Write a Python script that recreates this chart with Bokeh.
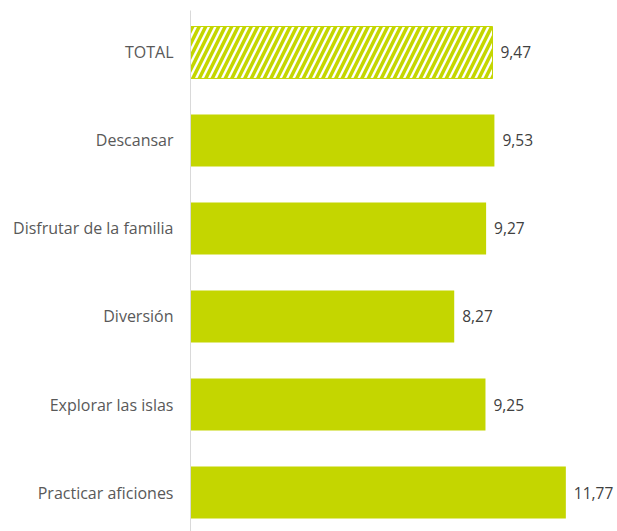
from bokeh.plotting import figure
from bokeh.models import Range1d, FixedTicker, ColumnDataSource
from bokeh.embed import file_html
from bokeh.resources import INLINE
from bokeh.core.properties import value

categories = ["TOTAL", "Descansar", "Disfrutar de la familia", "Diversión",
              "Explorar las islas", "Practicar aficiones"]
values = [9.47, 9.53, 9.27, 8.27, 9.25, 11.77]
labels = ["9,47", "9,53", "9,27", "8,27", "9,25", "11,77"]

GREEN = "#C4D600"
pos = list(range(len(categories)))

p = figure(width=617, height=531, output_backend="svg", toolbar_location=None,
           x_range=Range1d(0, 13.39), y_range=Range1d(5.443, -0.477),
           min_border_left=190, min_border_right=0, min_border_top=10, min_border_bottom=0)

src_total = ColumnDataSource(dict(y=pos[:1], right=values[:1]))
src_rest = ColumnDataSource(dict(y=pos[1:], right=values[1:]))

p.hbar(y="y", right="right", left=0, height=0.59, source=src_rest,
       fill_color=GREEN, line_color=None)
p.hbar(y="y", right="right", left=0, height=0.59, source=src_total,
       fill_color="white", line_color=GREEN, line_width=1,
       hatch_pattern="/", hatch_color=GREEN, hatch_weight=3.5, hatch_scale=13)

lab_src = ColumnDataSource(dict(x=values, y=pos, t=labels))
p.text(x="x", y="y", text="t", source=lab_src, x_offset=8,
       text_align="left", text_baseline="middle", text_color="#404040",
       text_font=value("Open Sans"), text_font_size="15.5px")

p.xaxis.visible = False
p.xgrid.visible = False
p.ygrid.visible = False
p.outline_line_color = None

ya = p.yaxis[0]
ya.ticker = FixedTicker(ticks=pos)
ya.major_label_overrides = {i: c for i, c in zip(pos, categories)}
ya.axis_line_color = "#D9D9D9"
ya.axis_line_width = 1
ya.major_tick_line_color = None
ya.minor_tick_line_color = None
ya.major_label_standoff = 11
ya.major_label_text_font = "Open Sans"
ya.major_label_text_font_size = "16px"
ya.major_label_text_color = "#595959"

open("out.html", "w").write(file_html(p, INLINE))
